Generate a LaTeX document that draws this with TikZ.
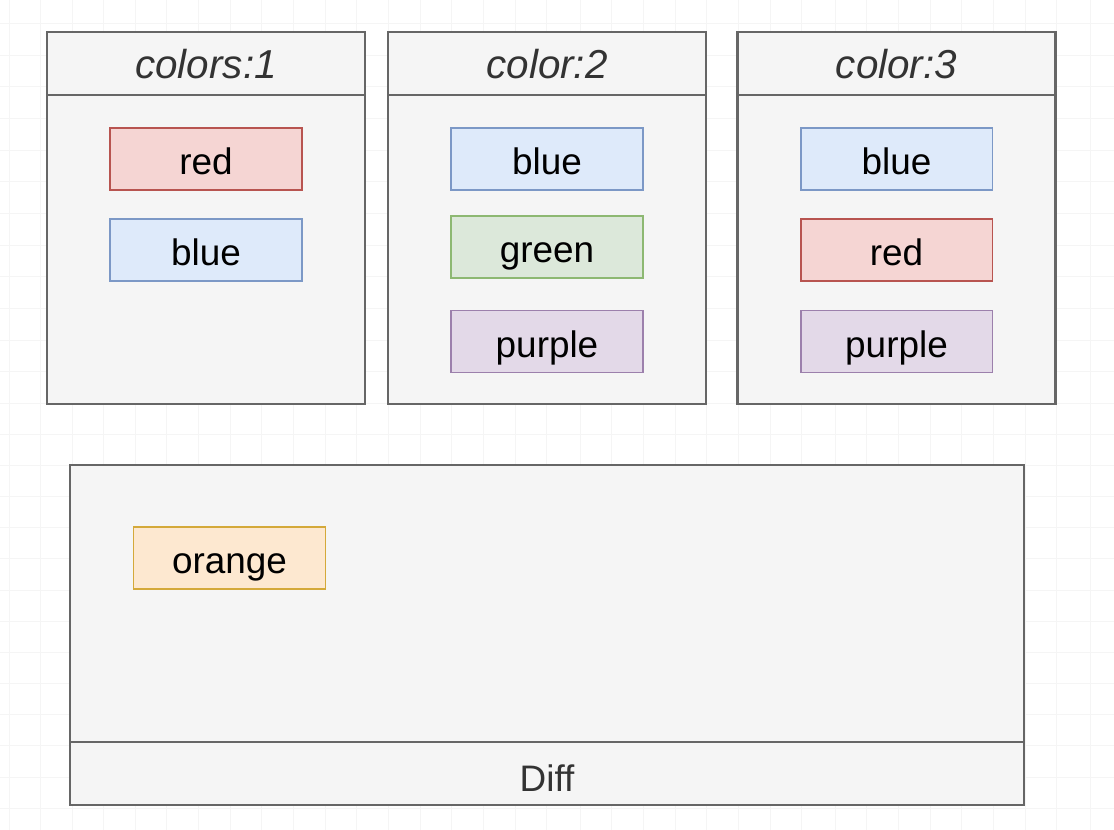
\documentclass[tikz,border=0pt]{standalone}
\usepackage{fontspec}
\setmainfont{Liberation Sans}
\usepackage{tikz}
\usetikzlibrary{positioning}

\definecolor{panelfill}{HTML}{F5F5F5}
\definecolor{panelline}{HTML}{666666}
\definecolor{paneltext}{HTML}{333333}
\definecolor{redfill}{HTML}{F5D5D3}
\definecolor{redline}{HTML}{B85450}
\definecolor{bluefill}{HTML}{DEEAFA}
\definecolor{blueline}{HTML}{7C98C6}
\definecolor{greenfill}{HTML}{DCE8DA}
\definecolor{greenline}{HTML}{8DB872}
\definecolor{purplefill}{HTML}{E3D9E8}
\definecolor{purpleline}{HTML}{9C80AC}
\definecolor{orangefill}{HTML}{FDE8D0}
\definecolor{orangeline}{HTML}{D4A93A}

\begin{document}
\begin{tikzpicture}[x=0.02cm, y=-0.02cm, node distance={18.2mm},
	panel/.style={draw=panelline, fill=panelfill, line width=1.3pt, inner sep=0pt, minimum width=63.6mm, minimum height=74.4mm},
	header/.style={draw=panelline, fill=panelfill, line width=1.3pt, inner sep=0pt, minimum width=63.6mm, minimum height=12.6mm, text=paneltext, text height=17.6pt, text depth=0pt, font=\fontsize{23}{27}\selectfont\itshape},
	item/.style={line width=1.1pt, inner sep=0pt, minimum width=38.4mm, minimum height=12.4mm, text height=18.2pt, text depth=0pt, font=\fontsize{21}{25}\selectfont},
	red/.style={item, draw=redline, fill=redfill},
	blue/.style={item, draw=blueline, fill=bluefill},
	green/.style={item, draw=greenline, fill=greenfill},
	purple/.style={item, draw=purpleline, fill=purplefill},
	orange/.style={item, draw=orangeline, fill=orangefill},
	gridline/.style={draw=black!4, line width=0.4pt}]

		\useasboundingbox[fill=white] (0,0) rectangle (1114,830);
		\foreach \gx in {9,40,72,103,135,166,198,230,261,293,325,356,388,420,451,483,515,546,580,611,643,675,706,738,770,801,835,866,898,930,961,993,1025,1056,1090}
			\draw[gridline] (\gx,0) -- (\gx,830);
		\foreach \gy in {23,55,86,118,150,181,213,245,276,308,340,371,403,434,465,496,527,558,590,621,652,683,714,745,777,808}
			\draw[gridline] (0,\gy) -- (1114,\gy);

		% three sets
		\node[panel] (p1) at (206,218) {};
		\node[panel] (p2) at (547,218) {};
		\node[panel] (p3) at (896.5,218) {};
		\node[header, anchor=north] (h1) at (p1.north) {colors:1};
		\node[header, anchor=north] (h2) at (p2.north) {color:2};
		\node[header, anchor=north] (h3) at (p3.north) {color:3};

		\node[red] (r1) at (206,159) {red};
		\node[blue] (b1) [below of=r1] {blue};

		\node[blue] (b2) at (547,159) {blue};
		\node[green] (g2) at (547,247) {green};
		\node[purple] (u2) at (547,341.5) {purple};

		\node[blue] (b3) at (896.5,159) {blue};
		\node[red] (r3) [below of=b3] {red};
		\node[purple] (u3) at (896.5,341.5) {purple};

		% diff set
		\node[panel, minimum width=190.8mm, minimum height=68mm] (d) at (547,635) {};
		\node[header, anchor=south, minimum width=190.8mm, text height=21pt, font=\fontsize{21}{25}\selectfont] (dh) at (d.south) {Diff};
		\node[orange] (o) at (229.5,558) {orange};

	\end{tikzpicture}
\end{document}
